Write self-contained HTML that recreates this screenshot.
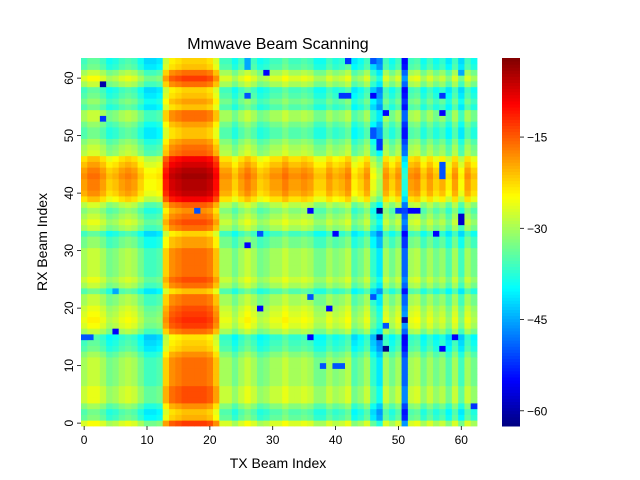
<!DOCTYPE html>
<html><head><meta charset="utf-8"><style>
body{margin:0;background:#fff}
svg{display:block;font-family:"Liberation Sans","DejaVu Sans",sans-serif}
</style></head><body>
<svg id="chart" width="640" height="480" viewBox="0 0 640 480" xmlns="http://www.w3.org/2000/svg">
<rect width="640" height="480" fill="#fff"/>
<text x="278" y="49" font-size="16" text-anchor="middle" fill="#000">Mmwave Beam Scanning</text>
<g id="cells"></g>
<g id="axes"></g>
<g id="cbar"></g>
<text x="278" y="468" font-size="14" text-anchor="middle">TX Beam Index</text>
<text transform="translate(47,242) rotate(-90)" font-size="14" text-anchor="middle">RX Beam Index</text>
</svg>
<script>
// Row gain (dB) per RX beam 0..63
const rowGain=[-13,-20,-21,-18,-14,-14,-14,-16,-16,-16,-16,-16,-18,-21,-22,-23,-16,-13,-12,-13,-14,-16,-16,-21,-16,-14,-16,-16,-16,-16,-16,-19,-19,-22,-16,-14,-16,-18,-15,-9,-6,-5,-5,-4,-5,-7,-9,-15,-16,-18,-21,-21,-19,-16,-16,-21,-19,-21,-22,-16,-13,-16,-21,-22];
// Column gain (dB) per TX beam 0..62
const colGain=[-14,-12,-12,-14,-17,-16,-14,-13,-14,-17,-20,-20,-19,-6,-2,-1,0,0,0,0,-1,-5,-14,-14,-17,-14,-12,-14,-17,-16,-14,-14,-12,-14,-14,-13,-14,-17,-17,-14,-16,-15,-13,-19,-17,-14,-21,-25,-14,-17,-14,-33,-14,-13,-17,-14,-17,-15,-19,-14,-20,-14,-17];
// Outlier cells: rows, cols, values
const outRows=[37,59,53,57,61,33,62,63,63,63,57,57,57,57,61,54,54,50,51,48,49,43,44,45,37,37,37,37,37,35,36,33,33,33,15,13,15,20,13,15,10,10,10,22,22,17,3,18,15,15,16,20,31,23];
const outCols=[18,3,3,26,29,28,26,26,42,46,46,41,42,57,60,48,57,46,46,47,47,57,57,57,47,36,52,53,50,60,60,40,51,56,47,48,36,39,57,59,40,41,38,36,46,48,62,51,0,1,5,28,26,5];
const outVals=[-50,-60,-52,-50,-55,-50,-45,-45,-52,-50,-55,-52,-52,-52,-45,-55,-55,-50,-50,-52,-52,-50,-50,-50,-62,-55,-55,-55,-52,-58,-58,-55,-55,-55,-62,-62,-55,-55,-55,-55,-50,-50,-50,-50,-50,-50,-52,-60,-50,-50,-55,-55,-55,-45];
const cbTicks=[-60,-45,-30,-15];
const xTicks=[0,10,20,30,40,50,60];
const yTicks=[0,10,20,30,40,50,60];
const vmin=-62.5,vmax=-2;
const X0=81,X1=477,Y0=58,Y1=426,NC=colGain.length,NR=rowGain.length;
const cw=(X1-X0)/NC,rh=(Y1-Y0)/NR;
const xs=c=>X0+c*cw, ys=r=>Y1-(r+1)*rh;
function jet(t){t=Math.max(0,Math.min(1,t));
 const f=(x)=>Math.max(0,Math.min(1,x));
 const r=f(1.5-Math.abs(4*t-3)),g=f(1.5-Math.abs(4*t-2)),b=f(1.5-Math.abs(4*t-1));
 return `rgb(${Math.round(r*255)},${Math.round(g*255)},${Math.round(b*255)})`;}
const grid=[];
for(let r=0;r<NR;r++){grid.push([]);for(let c=0;c<NC;c++)grid[r].push(Math.max(vmin,Math.min(vmax,rowGain[r]+colGain[c])));}
outRows.forEach((r,i)=>{grid[r][outCols[i]]=outVals[i];});
const NS="http://www.w3.org/2000/svg";
const cells=document.getElementById('cells');
for(let r=0;r<NR;r++)for(let c=0;c<NC;c++){
 const el=document.createElementNS(NS,'rect');
 el.setAttribute('x',xs(c).toFixed(2));el.setAttribute('y',ys(r).toFixed(2));
 el.setAttribute('width',(cw+0.4).toFixed(2));el.setAttribute('height',(rh+0.4).toFixed(2));
 el.setAttribute('fill',jet((grid[r][c]-vmin)/(vmax-vmin)));
 
 
 cells.appendChild(el);}
const axes=document.getElementById('axes');
function add(parent,tag,attrs,text){const e=document.createElementNS(NS,tag);for(const k in attrs)e.setAttribute(k,attrs[k]);if(text!==undefined)e.textContent=text;parent.appendChild(e);return e;}
xTicks.forEach(v=>{const x=xs(v)+cw/2;
 const t=add(axes,'line',{x1:x,x2:x,y1:Y1,y2:Y1+4,stroke:'#000','stroke-width':0.8});
 
 
 const l=add(axes,'text',{x:x,y:Y1+18,'font-size':12,'text-anchor':'middle'},String(v));
 
 });
yTicks.forEach(v=>{const y=ys(v)+rh/2;
 const t=add(axes,'line',{x1:X0-4,x2:X0,y1:y,y2:y,stroke:'#000','stroke-width':0.8});
 
 
 const l=add(axes,'text',{transform:`translate(${X0-8},${y}) rotate(-90)`,'font-size':12,'text-anchor':'middle'},String(v));
 
 });
const cb=document.getElementById('cbar');
const CX=502,CW=18,N=120;
for(let i=0;i<N;i++){const v0=vmin+(vmax-vmin)*i/N;const y=Y1-(i+1)*(Y1-Y0)/N;
 const e=add(cb,'rect',{x:CX,y:y.toFixed(2),width:CW,height:((Y1-Y0)/N+0.5).toFixed(2),fill:jet((v0-vmin)/(vmax-vmin)+0.5/N)});
 
 }
const cy=v=>Y1-(v-vmin)/(vmax-vmin)*(Y1-Y0);
cbTicks.forEach(v=>{const y=cy(v);
 const t=add(cb,'line',{x1:CX+CW,x2:CX+CW+4,y1:y,y2:y,stroke:'#000','stroke-width':0.8});
 
 
 const l=add(cb,'text',{x:CX+CW+7,y:y+4.5,'font-size':12},'\u2212'+Math.abs(v));
 
 });
</script>
</body></html>
